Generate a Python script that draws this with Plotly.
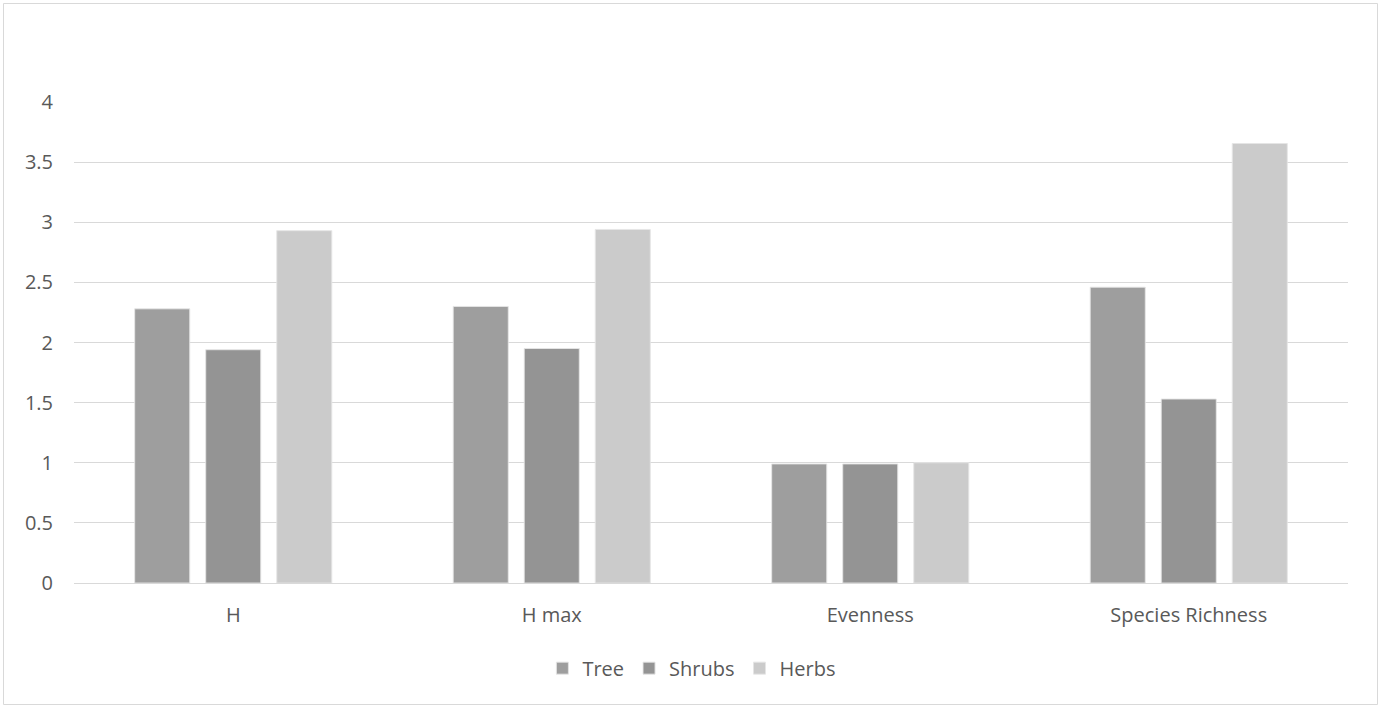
import plotly.graph_objects as go

categories = ["H", "H max", "Evenness", "Species Richness"]
tree = [2.28, 2.30, 0.99, 2.46]
shrubs = [1.94, 1.95, 0.99, 1.53]
herbs = [2.93, 2.94, 1.00, 3.655]
series_names = ["Tree", "Shrubs", "Herbs"]
series_colors = ["#9e9e9e", "#949494", "#cbcbcb"]
y_ticks = [0, 0.5, 1, 1.5, 2, 2.5, 3, 3.5, 4]
y_tick_labels = ["0", "0.5", "1", "1.5", "2", "2.5", "3", "3.5", "4"]

W, H = 1392, 706
L, R, T, B = 74, 44, 102, 123
font = "Open Sans, Liberation Sans, sans-serif"
txt = "#595959"
fs = 20

fig = go.Figure()
for name, vals, col in zip(series_names, [tree, shrubs, herbs], series_colors):
    fig.add_trace(go.Bar(
        x=categories, y=vals, name=name,
        marker=dict(color=col, line=dict(color="rgba(230,230,230,0.9)", width=1)),
    ))

pw = W - L - R
ph = H - T - B
fig.add_shape(type="rect", xref="paper", yref="paper",
              x0=(3.5 - L) / pw, x1=(1377.5 - L) / pw,
              y0=(H - B - 704.5) / ph, y1=(H - B - 3.5) / ph,
              line=dict(color="#d9d9d9", width=1), layer="below")

fig.update_layout(
    width=W, height=H,
    margin=dict(l=L, r=R, t=T, b=B),
    paper_bgcolor="white", plot_bgcolor="white",
    barmode="group", bargap=0.331, bargroupgap=0.225,
    font=dict(family=font, size=fs, color=txt),
    showlegend=True,
    legend=dict(orientation="h", x=0.485, xanchor="center", y=-0.177, yanchor="middle",
                font=dict(size=fs, color=txt), itemwidth=30, traceorder="normal"),
    xaxis=dict(showgrid=False, showline=False, ticks="", tickfont=dict(size=fs, color=txt),
               ticklabelstandoff=18),
    yaxis=dict(range=[0, 4], tickvals=y_ticks, ticktext=y_tick_labels,
               showgrid=True, gridcolor="#d9d9d9", gridwidth=1,
               zeroline=True, zerolinecolor="#d9d9d9", zerolinewidth=1,
               showline=False, ticks="", tickfont=dict(size=fs, color=txt),
               ticklabelstandoff=20),
)

fig.write_html("out.html", config={"displayModeBar": False},
               post_script="document.body.style.margin='0';document.body.style.overflow='hidden';")
